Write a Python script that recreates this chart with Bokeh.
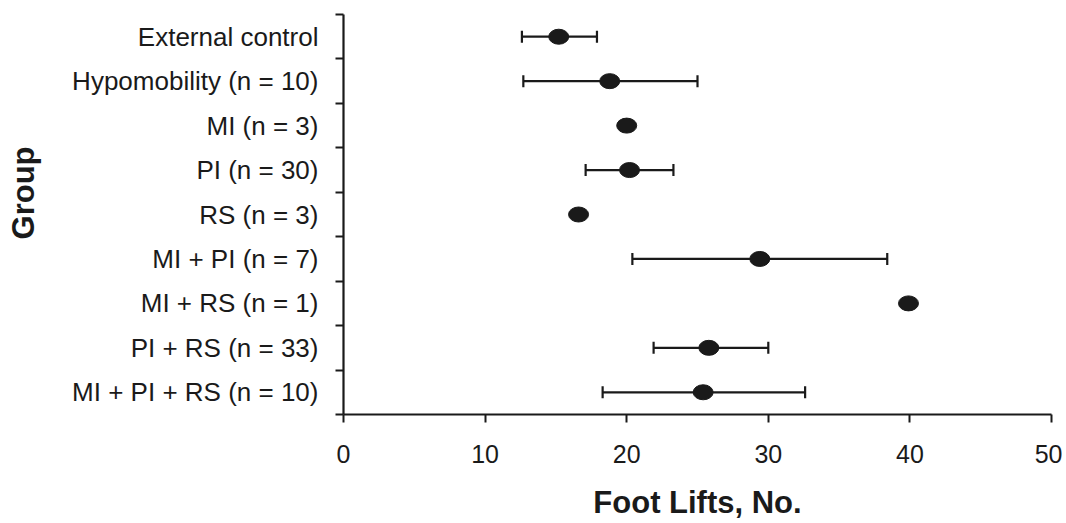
from bokeh.plotting import figure
from bokeh.models import ColumnDataSource, Range1d, FixedTicker, Whisker, TeeHead
from bokeh.embed import file_html
from bokeh.resources import INLINE

groups = ["External control", "Hypomobility (n = 10)", "MI (n = 3)", "PI (n = 30)",
          "RS (n = 3)", "MI + PI (n = 7)", "MI + RS (n = 1)", "PI + RS (n = 33)",
          "MI + PI + RS (n = 10)"]
means = [15.2, 18.8, 20.0, 20.2, 16.6, 29.4, 39.9, 25.8, 25.4]
lower = [12.6, 12.7, None, 17.1, None, 20.4, None, 21.9, 18.3]
upper = [17.9, 25.0, None, 23.3, None, 38.4, None, 30.0, 32.6]
x_ticks = [0, 10, 20, 30, 40, 50]

pos = list(range(1, len(groups) + 1))
FONT = "Liberation Sans"
INK = "#1a1a1a"

p = figure(width=1062, height=522, output_backend="svg", toolbar_location=None,
           x_range=Range1d(0, 50), y_range=Range1d(len(groups) + 0.5, 0.5),
           min_border_left=343, min_border_right=11, min_border_top=14, min_border_bottom=106)
p.outline_line_color = None
p.xgrid.grid_line_color = None
p.ygrid.grid_line_color = None
p.background_fill_color = "white"
p.border_fill_color = "white"

# error bars
wl, wu, wy = [], [], []
for y, lo, up in zip(pos, lower, upper):
    if lo is not None and up is not None:
        wl.append(lo); wu.append(up); wy.append(y)
wsrc = ColumnDataSource(dict(y=wy, lower=wl, upper=wu))
wh = Whisker(source=wsrc, base="y", lower="lower", upper="upper", dimension="width",
             line_color=INK, line_width=2.2,
             lower_head=TeeHead(size=12, line_color=INK, line_width=2.2),
             upper_head=TeeHead(size=12, line_color=INK, line_width=2.2))
wh.level = "underlay"
p.add_layout(wh)

src = ColumnDataSource(dict(x=means, y=pos))
p.ellipse(x="x", y="y", width=20, height=15, width_units="screen", height_units="screen",
          source=src, fill_color=INK, line_color=INK)

# x axis
xa = p.xaxis[0]
xa.ticker = FixedTicker(ticks=x_ticks)
xa.axis_label = "Foot Lifts, No."
xa.axis_label_text_font = FONT
xa.axis_label_text_font_style = "bold"
xa.axis_label_text_font_size = "31px"
xa.axis_label_text_color = INK
xa.axis_label_standoff = 19
xa.major_label_text_font = FONT
xa.major_label_text_font_size = "25px"
xa.major_label_text_color = INK
xa.major_label_standoff = 22
xa.major_tick_out = 8
xa.major_tick_in = 0
xa.minor_tick_out = 0
xa.minor_tick_in = 0
xa.axis_line_width = 2.2
xa.axis_line_color = INK
xa.major_tick_line_width = 2
xa.major_tick_line_color = INK

# y axis: labels at row centres, tick marks at row boundaries
ya = p.yaxis[0]
ya.ticker = FixedTicker(ticks=pos, minor_ticks=[k + 0.5 for k in range(0, len(groups) + 1)])
ya.major_label_overrides = {k: g for k, g in zip(pos, groups)}
ya.major_label_text_font = FONT
ya.major_label_text_font_size = "26px"
ya.major_label_text_color = INK
ya.major_label_standoff = 17
ya.major_tick_out = 0
ya.major_tick_in = 0
ya.minor_tick_out = 8
ya.minor_tick_in = 0
ya.minor_tick_line_width = 2
ya.minor_tick_line_color = INK
ya.axis_line_width = 2.2
ya.axis_line_color = INK
# the original title sits a little above the frame centre: lead with no-break spaces
ya.axis_label = "\u00a0" * 5 + "Group"
ya.axis_label_text_font = FONT
ya.axis_label_text_font_style = "bold"
ya.axis_label_text_font_size = "31px"
ya.axis_label_text_color = INK
ya.axis_label_standoff = 28

open("out.html", "w").write(file_html(p, INLINE))
